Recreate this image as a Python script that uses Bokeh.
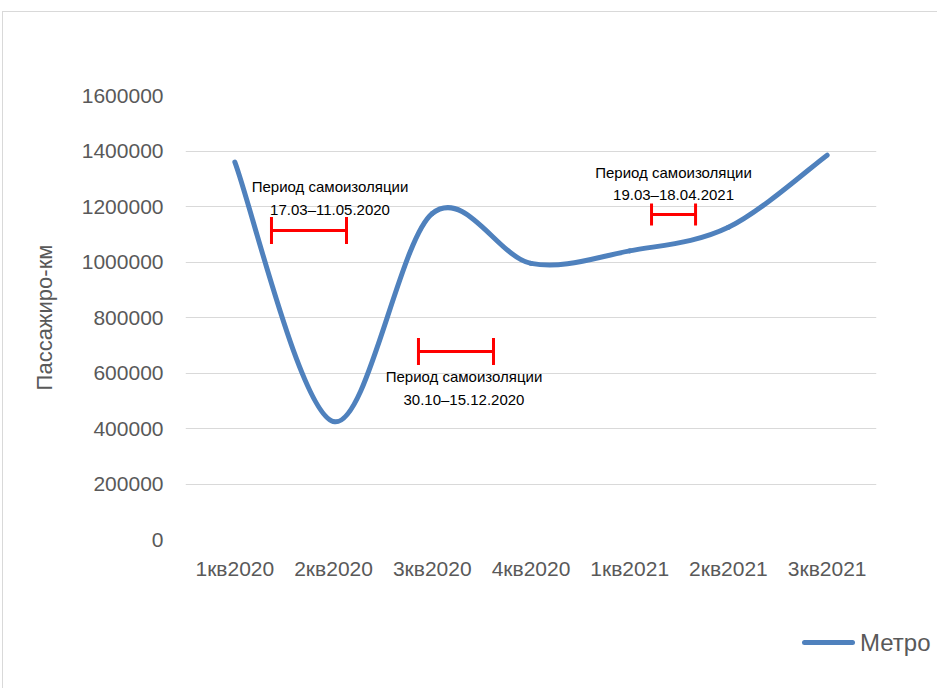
from bokeh.plotting import figure
from bokeh.layouts import column
from bokeh.models import Range1d, FixedTicker, BasicTickFormatter, Div
from bokeh.core.properties import value
from bokeh.embed import file_html
from bokeh.resources import INLINE

# ---- data ----
categories = ["1кв2020", "2кв2020", "3кв2020", "4кв2020", "1кв2021", "2кв2021", "3кв2021"]
metro = [1360000, 425000, 1175000, 995000, 1040000, 1125000, 1385000]
y_ticks = [0, 200000, 400000, 600000, 800000, 1000000, 1200000, 1400000, 1600000]
series_name = "Метро"

# isolation periods: start / end (category units), level, cap half-height
period_x0 = [0.371, 1.860, 4.221]
period_x1 = [1.131, 2.620, 4.667]
period_y = [1113500, 677500, 1171200]
period_cap = [48600, 48600, 39600]
period_text = ["Период самоизоляции\n17.03–11.05.2020",
               "Период самоизоляции\n30.10–15.12.2020",
               "Период самоизоляции\n19.03–18.04.2021"]
label_x = [0.964, 2.321, 4.444]
label_y = [1230600, 546000, 1282900]

FONT = "Liberation Sans"
BLUE = "#4F81BD"
GRAY_TXT = "#595959"
GRID = "#D9D9D9"

p = figure(frame_width=691, frame_height=444,
           min_border_left=182, min_border_right=54, min_border_top=83, min_border_bottom=85,
           x_range=Range1d(-0.5, 6.5), y_range=Range1d(0, 1600000),
           output_backend="svg", toolbar_location=None)
p.outline_line_color = None
p.xgrid.grid_line_color = None
p.ygrid.grid_line_color = GRID
p.ygrid.grid_line_width = 1

# axes
p.xaxis.ticker = FixedTicker(ticks=list(range(len(categories))))
p.xaxis.major_label_overrides = {i: c for i, c in enumerate(categories)}
p.yaxis.ticker = FixedTicker(ticks=y_ticks)
p.yaxis.formatter = BasicTickFormatter(use_scientific=False)
for ax in (p.xaxis, p.yaxis):
    ax.axis_line_color = None
    ax.major_tick_line_color = None
    ax.minor_tick_line_color = None
    ax.major_tick_out = 0
    ax.major_tick_in = 0
    ax.minor_tick_out = 0
    ax.major_label_text_font = FONT
    ax.major_label_text_font_size = "21px"
    ax.major_label_text_color = GRAY_TXT
p.xaxis.major_label_standoff = 17
p.yaxis.major_label_standoff = 22
p.yaxis.axis_label = "Пассажиро-км"
p.yaxis.axis_label_text_font = FONT
p.yaxis.axis_label_text_font_size = "22px"
p.yaxis.axis_label_text_font_style = "normal"
p.yaxis.axis_label_text_color = GRAY_TXT
p.yaxis.axis_label_standoff = 22

# smoothed line (Catmull-Rom -> cubic Bezier) built from the data
n = len(metro)
xs = list(range(n))
bx0, by0, bx1, by1, cx0, cy0, cx1, cy1 = [], [], [], [], [], [], [], []
for i in range(n - 1):
    im1 = max(i - 1, 0)
    ip2 = min(i + 2, n - 1)
    bx0.append(xs[i]); by0.append(metro[i])
    bx1.append(xs[i + 1]); by1.append(metro[i + 1])
    cx0.append(xs[i] + (xs[i + 1] - xs[im1]) / 6)
    cy0.append(metro[i] + (metro[i + 1] - metro[im1]) / 6)
    cx1.append(xs[i + 1] - (xs[ip2] - xs[i]) / 6)
    cy1.append(metro[i + 1] - (metro[ip2] - metro[i]) / 6)
p.bezier(x0=bx0, y0=by0, x1=bx1, y1=by1, cx0=cx0, cy0=cy0, cx1=cx1, cy1=cy1,
         line_color=BLUE, line_width=5, line_cap="round")

# isolation period markers
p.segment(x0=period_x0, y0=period_y, x1=period_x1, y1=period_y, line_color="#FF0000", line_width=3)
p.segment(x0=period_x0, y0=[y - c for y, c in zip(period_y, period_cap)],
          x1=period_x0, y1=[y + c for y, c in zip(period_y, period_cap)],
          line_color="#FF0000", line_width=3)
p.segment(x0=period_x1, y0=[y - c for y, c in zip(period_y, period_cap)],
          x1=period_x1, y1=[y + c for y, c in zip(period_y, period_cap)],
          line_color="#FF0000", line_width=3)
p.text(x=label_x, y=label_y, text=period_text, text_align="center", text_baseline="middle",
       text_font=value(FONT), text_font_size="15px", text_color="#000000",
       text_line_height=1.35)

# legend strip (HTML, below the plot)
legend_html = (
    '<div style="position:relative;width:927px;height:60px;">'
    '<div style="position:absolute;left:794px;top:11px;width:53px;height:5px;'
    'background:' + BLUE + ';border-radius:3px;"></div>'
    '<div style="position:absolute;left:852px;top:0px;font-family:\'Liberation Sans\';'
    'font-size:24px;line-height:28px;color:' + GRAY_TXT + ';white-space:nowrap;">'
    + series_name + '</div></div>'
)
leg = Div(text=legend_html, width=927, height=60)

layout = column(p, leg, spacing=0,
                styles={"border-left": "1px solid #D9D9D9", "border-top": "1px solid #D9D9D9",
                        "margin-left": "2px", "margin-top": "11px"})

open("out.html", "w").write(file_html(layout, INLINE))
